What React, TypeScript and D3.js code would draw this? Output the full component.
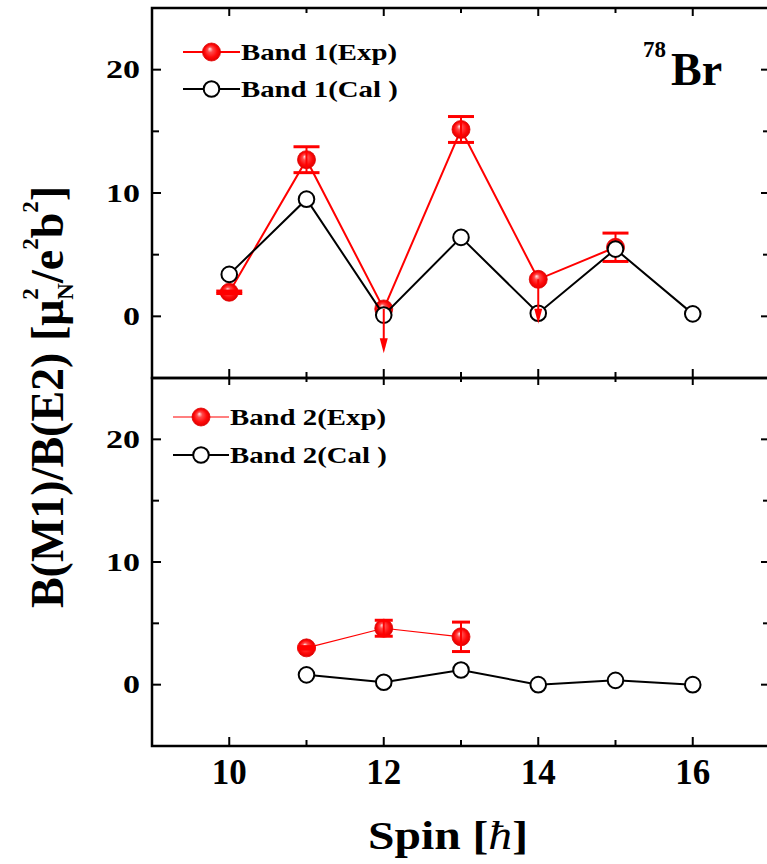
import React from "react";
import * as d3 from "d3";

// Spin values for the horizontal axis
const spinTicks = [10, 11, 12, 13, 14, 15, 16];
const spinLabels = [10, 12, 14, 16];
const ratioTicks = [-5, 0, 5, 10, 15, 20, 25];
const ratioLabels = [0, 10, 20];

// Band 1, experiment
const band1ExpSpin = [10, 11, 12, 13, 14, 15];
const band1ExpVal = [1.95, 12.7, 0.6, 15.15, 3.0, 5.6];
const band1ExpErr = [0.1, 1.05, 0, 1.05, 0, 1.15];
const band1ExpUpper = [false, false, true, false, true, false];
// Band 1, calculation
const band1CalSpin = [10, 11, 12, 13, 14, 15, 16];
const band1CalVal = [3.4, 9.5, 0.1, 6.4, 0.25, 5.45, 0.2];

// Band 2, experiment
const band2ExpSpin = [11, 12, 13];
const band2ExpVal = [3.0, 4.6, 3.9];
const band2ExpErr = [0.1, 0.65, 1.2];
// Band 2, calculation
const band2CalSpin = [11, 12, 13, 14, 15, 16];
const band2CalVal = [0.8, 0.2, 1.2, 0.0, 0.35, 0.0];

// length of the upper-limit arrows, in ratio units
const upperLimitDrop = 3.6;

const W = 767;
const H = 864;
const FONT = "'Liberation Serif', 'Times New Roman', serif";
const RED = "#ff0000";

const x = d3.scaleLinear().domain([9, 17]).range([152, 770]);
const yTop = d3.scaleLinear().domain([-5, 25]).range([378, 8]);
const yBot = d3.scaleLinear().domain([-5, 25]).range([746, 378]);

type Pt = [number, number];

function Sphere({ cx, cy, r = 9 }: { cx: number; cy: number; r?: number }) {
  return <circle cx={cx} cy={cy} r={r} fill="url(#redSphere)" stroke="#e00000" strokeWidth={0.8} />;
}

function OpenCircle({ cx, cy }: { cx: number; cy: number }) {
  return <circle cx={cx} cy={cy} r={7.8} fill="#fff" stroke="#000" strokeWidth={2} />;
}

function ErrorBar({ sx, v, e, y, cap, w }: { sx: number; v: number; e: number; y: d3.ScaleLinear<number, number>; cap: number; w: number }) {
  const px = x(sx);
  const top = y(v + e);
  const bot = y(v - e);
  return (
    <g stroke={RED} strokeWidth={w} fill="none">
      <line x1={px} x2={px} y1={top} y2={bot} />
      <line x1={px - cap} x2={px + cap} y1={top} y2={top} strokeWidth={3} />
      <line x1={px - cap} x2={px + cap} y1={bot} y2={bot} strokeWidth={3} />
    </g>
  );
}

function DownArrow({ sx, v, y }: { sx: number; v: number; y: d3.ScaleLinear<number, number> }) {
  const px = x(sx);
  const y0 = y(v);
  const y1 = y(v - upperLimitDrop);
  const head = 15;
  return (
    <g>
      <line x1={px} x2={px} y1={y0} y2={y1 - head + 2} stroke={RED} strokeWidth={2} />
      <path d={`M${px - 4},${y1 - head} L${px + 4},${y1 - head} L${px},${y1} Z`} fill={RED} />
    </g>
  );
}

function Frame({ y, top }: { y: d3.ScaleLinear<number, number>; top: boolean }) {
  const [y0, y1] = [y.range()[1], y.range()[0]];
  const xl = x.range()[0];
  const xr = x.range()[1];
  return (
    <g stroke="#000" fill="none">
      {/* ticks along the top and bottom edges */}
      {spinTicks.map((s) => {
        const major = spinLabels.includes(s);
        const len = major ? 9 : 6;
        return (
          <g key={s} strokeWidth={2}>
            <line x1={x(s)} x2={x(s)} y1={y0} y2={y0 + (top ? len - 1 : len - 2)} />
            <line x1={x(s)} x2={x(s)} y1={y1} y2={y1 - len} />
          </g>
        );
      })}
      {/* ticks along the left and right edges */}
      {ratioTicks.map((t) => {
        const major = ratioLabels.includes(t);
        const len = major ? 9 : 7;
        return (
          <g key={t} strokeWidth={2}>
            <line x1={xl} x2={xl + len} y1={y(t)} y2={y(t)} />
            <line x1={xr} x2={xr - len} y1={y(t)} y2={y(t)} />
          </g>
        );
      })}
      <rect x={xl} y={y0} width={xr - xl} height={y1 - y0} strokeWidth={2.5} />
      {ratioLabels.map((t) => (
        <text
          key={"l" + t}
          transform={`translate(140,${y(t) + 8.5}) scale(1.36,1)`}
          textAnchor="end"
          fontFamily={FONT}
          fontWeight="bold"
          fontSize={25}
          fill="#000"
          stroke="none"
        >
          {t}
        </text>
      ))}
    </g>
  );
}

function LegendRow({ x0, x1, y, exp, thin, label }: { x0: number; x1: number; y: number; exp: boolean; thin?: boolean; label: string }) {
  const mx = (x0 + x1) / 2;
  return (
    <g>
      <line x1={x0} x2={x1} y1={y} y2={y} stroke={exp ? RED : "#000"} strokeWidth={exp && thin ? 1.2 : 2} />
      {exp ? <Sphere cx={mx} cy={y} /> : <OpenCircle cx={mx} cy={y} />}
      <text
        transform={`translate(${x1 + 1},${y + 8}) scale(1.2,1)`}
        fontFamily={FONT}
        fontWeight="bold"
        fontSize={24}
        fill="#000"
      >
        {label}
      </text>
    </g>
  );
}

export default function App() {
  const line = (y: d3.ScaleLinear<number, number>) =>
    d3
      .line<Pt>()
      .x((d) => x(d[0]))
      .y((d) => y(d[1]));

  const b1e: Pt[] = band1ExpSpin.map((s, i) => [s, band1ExpVal[i]]);
  const b1c: Pt[] = band1CalSpin.map((s, i) => [s, band1CalVal[i]]);
  const b2e: Pt[] = band2ExpSpin.map((s, i) => [s, band2ExpVal[i]]);
  const b2c: Pt[] = band2CalSpin.map((s, i) => [s, band2CalVal[i]]);

  return (
    <div style={{ position: "absolute", left: 0, top: 0 }}>
      <svg width={W} height={H} viewBox={`0 0 ${W} ${H}`} style={{ display: "block", background: "#fff" }}>
        <defs>
          <radialGradient id="redSphere" cx="0.5" cy="0.5" r="0.5" fx="0.4" fy="0.32">
            <stop offset="0" stopColor="#ffe6e6" />
            <stop offset="0.3" stopColor="#ff4a4a" />
            <stop offset="0.7" stopColor="#ff0a0a" />
            <stop offset="1" stopColor="#e00000" />
          </radialGradient>
        </defs>

        {/* upper panel: band 1 */}
        <path d={line(yTop)(b1e) ?? ""} fill="none" stroke={RED} strokeWidth={2} />
        {b1e.map(([s, v], i) => (
          <g key={"b1e" + s}>
            <Sphere cx={x(s)} cy={yTop(v)} />
            {!band1ExpUpper[i] && (
              <ErrorBar sx={s} v={v} e={band1ExpErr[i]} y={yTop} cap={13} w={2} />
            )}
          </g>
        ))}
        <path d={line(yTop)(b1c) ?? ""} fill="none" stroke="#000" strokeWidth={2} />
        {b1c.map(([s, v]) => (
          <OpenCircle key={"b1c" + s} cx={x(s)} cy={yTop(v)} />
        ))}
        {b1e.map(([s, v], i) =>
          band1ExpUpper[i] ? <DownArrow key={"arr" + s} sx={s} v={v} y={yTop} /> : null
        )}

        {/* lower panel: band 2 */}
        <path d={line(yBot)(b2e) ?? ""} fill="none" stroke={RED} strokeWidth={1.2} />
        {b2e.map(([s, v], i) => (
          <g key={"b2e" + s}>
            <Sphere cx={x(s)} cy={yBot(v)} />
            <ErrorBar sx={s} v={v} e={band2ExpErr[i]} y={yBot} cap={9} w={2} />
          </g>
        ))}
        <path d={line(yBot)(b2c) ?? ""} fill="none" stroke="#000" strokeWidth={2} />
        {b2c.map(([s, v]) => (
          <OpenCircle key={"b2c" + s} cx={x(s)} cy={yBot(v)} />
        ))}

        <Frame y={yTop} top={true} />
        <Frame y={yBot} top={false} />

        {/* legends */}
        <LegendRow x0={183} x1={240} y={52} exp={true} label="Band 1(Exp)" />
        <LegendRow x0={183} x1={240} y={89} exp={false} label="Band 1(Cal )" />
        <LegendRow x0={173} x1={229} y={417} exp={true} thin={true} label="Band 2(Exp)" />
        <LegendRow x0={173} x1={229} y={455} exp={false} label="Band 2(Cal )" />

        {/* nucleus label */}
        <text fontFamily={FONT} fontWeight="bold" fill="#000">
          <tspan x={643} y={56.7} fontSize={23}>78</tspan>
          <tspan x={671} y={85} fontSize={46}>Br</tspan>
        </text>

        {/* spin labels */}
        {spinLabels.map((s) => (
          <text key={"x" + s} x={x(s)} y={784} textAnchor="middle" fontFamily={FONT} fontWeight="bold" fontSize={35} fill="#000">
            {s}
          </text>
        ))}

        {/* axis titles */}
        <text
          transform="translate(368,849) scale(1.19,1)"
          fontFamily={FONT}
          fontWeight="bold"
          fontSize={40}
          fill="#000"
        >
          Spin [<tspan fontStyle="italic" fontWeight="normal">ħ</tspan>]
        </text>
        <text
          transform="translate(63,397) rotate(-90)"
          textAnchor="middle"
          fontFamily={FONT}
          fontWeight="bold"
          fontSize={46}
          fill="#000"
        >
          B(M1)/B(E2) [μ
          <tspan fontSize={23} dy={-25}>2</tspan>
          <tspan fontSize={23} dx={-11.5} dy={35}>N</tspan>
          <tspan dy={-10}>/e</tspan>
          <tspan fontSize={23} dy={-25}>2</tspan>
          <tspan dy={25}>b</tspan>
          <tspan fontSize={23} dy={-25}>2</tspan>
          <tspan dy={25}>]</tspan>
        </text>
      </svg>
    </div>
  );
}
